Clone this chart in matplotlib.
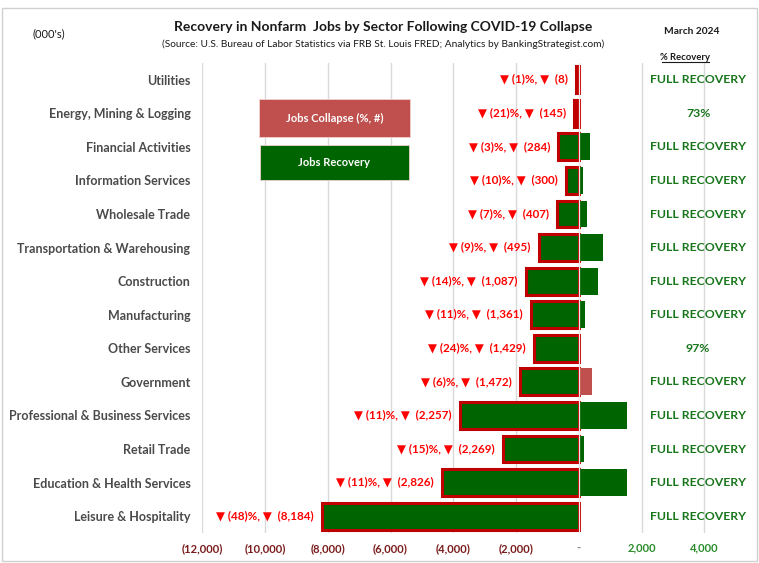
import matplotlib
matplotlib.use("Agg")
import matplotlib.pyplot as plt
from matplotlib.patches import Rectangle
from matplotlib.ticker import FixedLocator, FuncFormatter

plt.rcParams["font.family"] = ["Lato", "DejaVu Sans"]

# --- data (000's of jobs) ----------------------------------------------------
SECTORS = [
    "Utilities", "Energy, Mining & Logging", "Financial Activities",
    "Information Services", "Wholesale Trade", "Transportation & Warehousing",
    "Construction", "Manufacturing", "Other Services", "Government",
    "Professional & Business Services", "Retail Trade",
    "Education & Health Services", "Leisure & Hospitality",
]
# drawn length of the collapse bar (left of zero)
COLLAPSE_BAR = [90, 150, 650, 420, 680, 1280, 1690, 1540, 1440, 1880,
                3790, 2425, 4370, 8184]
# bar right of zero (excess recovery)
EXCESS_BAR = [0, 0, 360, 140, 265, 760, 615, 200, 0, 410,
              1530, 170, 1540, 0]
COLLAPSE_PCT = [1, 21, 3, 10, 7, 9, 14, 11, 24, 6, 11, 15, 11, 48]
COLLAPSE_JOBS = [8, 145, 284, 300, 407, 495, 1087, 1361, 1429, 1472,
                 2257, 2269, 2826, 8184]
RECOVERY = ["FULL RECOVERY", "73%", "FULL RECOVERY", "FULL RECOVERY",
            "FULL RECOVERY", "FULL RECOVERY", "FULL RECOVERY", "FULL RECOVERY",
            "97%", "FULL RECOVERY", "FULL RECOVERY", "FULL RECOVERY",
            "FULL RECOVERY", "FULL RECOVERY"]
XTICKS = [-12000, -10000, -8000, -6000, -4000, -2000, 0, 2000, 4000]

GREEN = "#006400"
RED_EDGE = "#C00000"
LIGHT_RED = "#C0504D"
TXT_GREEN = "#17751A"

fig = plt.figure(figsize=(7.59, 5.63), dpi=100)
ax = fig.add_axes([0.2665, 0.0533, 0.7235, 0.8348])

ys = list(range(len(SECTORS)))

# collapse bars (red outline, green = recovered; Energy still mostly red)
for y, c, r in zip(ys, COLLAPSE_BAR, RECOVERY):
    face = RED_EDGE if r == "73%" else GREEN
    ax.barh(y, -c, height=0.8, color=face, edgecolor=RED_EDGE, lw=2.2, zorder=3)

# excess recovery bars (Government drawn light red)
for y, e, s in zip(ys, EXCESS_BAR, SECTORS):
    if e:
        ax.barh(y, e, height=0.8, color=LIGHT_RED if s == "Government" else GREEN,
                lw=0, zorder=3)
ax.axvline(0, color="#f4e6e6", lw=0.9, zorder=4)

# collapse labels, left of each bar
for y, c, p, j in zip(ys, COLLAPSE_BAR, COLLAPSE_PCT, COLLAPSE_JOBS):
    ax.annotate(f"\u25bc ({p})%, \u25bc  ({j:,})", (-c, y),
                textcoords="offset points", xytext=(-6, 0.5),
                ha="right", va="center", fontsize=8.4, fontweight="bold",
                color="#FF0000", zorder=5)

# % recovery column
for y, r in zip(ys, RECOVERY):
    ax.text(3800, y, r, ha="center", va="center", fontsize=8.8,
            fontweight="bold", color=TXT_GREEN)

ax.set_xlim(-12000, 5500)
ax.set_ylim(13.5, -0.5)
ax.xaxis.set_major_locator(FixedLocator(XTICKS))


def fmt(v, pos):
    if v < 0:
        return f"({-v:,.0f})"
    if v == 0:
        return "-"
    return f"{v:,.0f}"


ax.xaxis.set_major_formatter(FuncFormatter(fmt))
ax.set_yticks(ys)
ax.set_yticklabels(SECTORS, fontsize=9, fontweight="bold", color="#4a4a4a")
ax.tick_params(axis="both", length=0)
ax.tick_params(axis="y", pad=8.5)
ax.tick_params(axis="x", pad=7)
for lab, v in zip(ax.get_xticklabels(), XTICKS):
    lab.set_fontsize(8)
    lab.set_fontweight("bold")
    lab.set_color("#7B1C1C" if v < 0 else ("#808080" if v == 0 else "#2A8C2A"))
ax.grid(axis="x", color="#D9D9D9", lw=1, zorder=0)
ax.set_axisbelow(True)
for sp in ax.spines.values():
    sp.set_visible(False)

# legend boxes
W, H = 759.0, 563.0


def box(x0, y0, x1, y1, color, text):
    fig.add_artist(Rectangle((x0 / W, 1 - y1 / H), (x1 - x0) / W, (y1 - y0) / H,
                             transform=fig.transFigure, facecolor=color,
                             edgecolor="#f0d0d0", lw=0.6))
    fig.text((x0 + x1) / 2 / W, 1 - (y0 + y1) / 2 / H, text, ha="center",
             va="center", color="white", fontsize=8, fontweight="bold")


box(259, 99, 410, 137, LIGHT_RED, "Jobs Collapse (%, #)")
box(260, 145, 409, 180, GREEN, "Jobs Recovery")

# headings
fig.text(383 / W, 1 - 27 / H, "Recovery in Nonfarm  Jobs by Sector Following COVID-19 Collapse",
         ha="center", va="center", fontsize=10, fontweight="bold", color="#1a1a1a")
fig.text(383 / W, 1 - 44 / H,
         "(Source: U.S. Bureau of Labor Statistics via FRB St. Louis FRED; Analytics by BankingStrategist.com)",
         ha="center", va="center", fontsize=7.3, color="#1a1a1a")
fig.text(49 / W, 1 - 34 / H, "(000's)", ha="center", va="center", fontsize=8,
         color="#1a1a1a")
fig.text(692 / W, 1 - 31 / H, "March 2024", ha="center", va="center",
         fontsize=7.3, fontweight="bold", color="#1a1a1a")
fig.text(685 / W, 1 - 57 / H, "% Recovery", ha="center", va="center",
         fontsize=6.8, fontweight="bold", color="#1a1a1a")
fig.add_artist(plt.Line2D([662 / W, 709 / W], [1 - 62 / H, 1 - 62 / H],
                          transform=fig.transFigure, color="#1a1a1a", lw=0.8))

# outer chart border
fig.add_artist(Rectangle((2 / W, 1 - 561 / H), 755 / W, 553 / H,
                         transform=fig.transFigure, fill=False,
                         edgecolor="#D0D0D0", lw=1))

fig.savefig("out.png", dpi=100)
